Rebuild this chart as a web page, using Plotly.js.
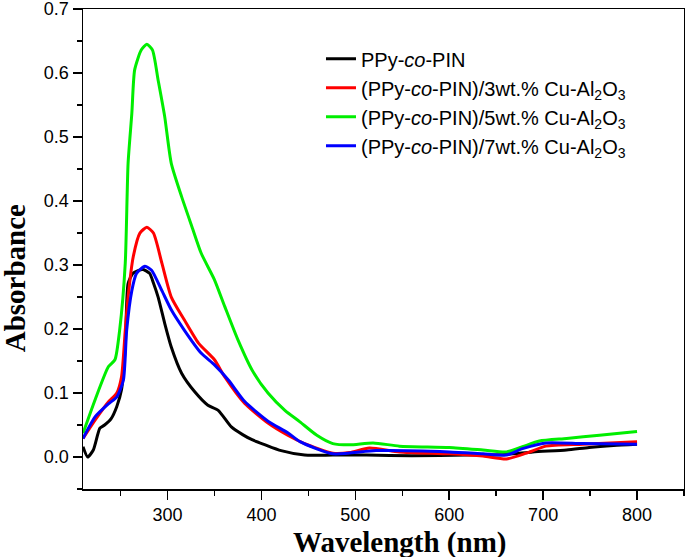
<!DOCTYPE html>
<html>
<head>
<meta charset="utf-8">
<script src="https://cdn.plot.ly/plotly-3.0.1.min.js"></script>
<style>
  html, body { margin: 0; padding: 0; background: #fff; }
  #chart { width: 685px; height: 557px; }
</style>
</head>
<body>
<div id="chart"></div>
<script>
// ---- Data ----
var seriesNames = [
  'PPy-<i>co</i>-PIN',
  '(PPy-<i>co</i>-PIN)/3wt.% Cu-Al<sub>2</sub>O<sub>3</sub>',
  '(PPy-<i>co</i>-PIN)/5wt.% Cu-Al<sub>2</sub>O<sub>3</sub>',
  '(PPy-<i>co</i>-PIN)/7wt.% Cu-Al<sub>2</sub>O<sub>3</sub>'
];
var seriesColors = ['#000000', '#ff0000', '#00ee00', '#0000ff'];

var wlBlack  = [210, 215, 221, 228, 233, 240, 246, 251, 255, 258, 263, 268, 274, 281, 285, 290, 297, 304, 315, 329, 343, 354, 368, 380, 390, 404, 421, 446, 476, 512, 560, 620, 660, 689, 725, 749, 775, 800];
var absBlack = [0.016, 0.0, 0.011, 0.045, 0.05, 0.06, 0.079, 0.105, 0.172, 0.271, 0.287, 0.291, 0.293, 0.287, 0.272, 0.25, 0.209, 0.172, 0.131, 0.102, 0.081, 0.073, 0.047, 0.035, 0.027, 0.019, 0.010, 0.003, 0.003, 0.003, 0.002, 0.003, 0.004, 0.008, 0.011, 0.015, 0.018, 0.020];

var wlRed  = [210, 223, 237, 246, 251, 255, 258, 263.5, 270.6, 278, 285, 294, 304, 318, 333, 350, 361, 382, 407, 428, 446, 476, 494, 515, 547, 600, 636, 661, 682, 703, 742, 800];
var absRed = [0.029, 0.058, 0.086, 0.10, 0.125, 0.198, 0.25, 0.313, 0.35, 0.359, 0.35, 0.303, 0.25, 0.214, 0.178, 0.152, 0.125, 0.084, 0.053, 0.034, 0.021, 0.006, 0.007, 0.014, 0.008, 0.005, 0.0015, -0.003, 0.006, 0.017, 0.02, 0.024];

var wlGreen  = [210, 223, 237, 244, 249, 255, 258, 262, 265, 272, 278, 284, 290, 297, 304, 315, 326, 336, 350, 361, 375, 390, 407, 425, 441, 459, 476, 494, 519, 547, 600, 636, 661, 678, 696, 725, 760, 800];
var absGreen = [0.037, 0.09, 0.141, 0.152, 0.198, 0.303, 0.459, 0.537, 0.605, 0.636, 0.645, 0.636, 0.589, 0.532, 0.459, 0.407, 0.36, 0.318, 0.277, 0.235, 0.183, 0.136, 0.10, 0.073, 0.055, 0.034, 0.021, 0.019, 0.022, 0.017, 0.015, 0.011, 0.008, 0.016, 0.025, 0.029, 0.034, 0.040];

var wlBlue  = [210, 223, 237, 246, 253, 256.5, 262, 267, 276, 283, 294, 304, 318, 336, 350, 365, 382, 407, 428, 441, 476, 522, 600, 636, 661, 678, 703, 742, 800];
var absBlue = [0.029, 0.063, 0.083, 0.094, 0.12, 0.198, 0.26, 0.287, 0.298, 0.292, 0.26, 0.23, 0.198, 0.162, 0.144, 0.12, 0.087, 0.056, 0.038, 0.024, 0.005, 0.01, 0.008, 0.005, 0.003, 0.013, 0.022, 0.021, 0.02];

var xTickVals = [300, 400, 500, 600, 700, 800];
var yTickVals = [0.0, 0.1, 0.2, 0.3, 0.4, 0.5, 0.6, 0.7];

var xs = [wlBlack, wlRed, wlGreen, wlBlue];
var ys = [absBlack, absRed, absGreen, absBlue];

var traces = xs.map(function (x, i) {
  return {
    type: 'scatter', mode: 'lines',
    x: x, y: ys[i], name: seriesNames[i],
    line: { color: seriesColors[i], width: 3, shape: 'spline', smoothing: 0.6 }
  };
});

var tickFont = { family: 'Arial, "Liberation Sans", sans-serif', size: 18, color: '#000' };
var titleFont = { family: '"Times New Roman", "Liberation Serif", serif', size: 29, color: '#000', weight: 'bold' };

var axisCommon = {
  showgrid: false, zeroline: false,
  showline: true, linecolor: '#000', linewidth: 1.5, mirror: true,
  ticks: 'outside', ticklen: 9, tickwidth: 1.5, tickcolor: '#000',
  tickfont: tickFont, ticklabeloverflow: 'allow'
};

var layout = {
  width: 685, height: 557,
  margin: { l: 83, r: 1, t: 9, b: 68 },
  paper_bgcolor: '#fff', plot_bgcolor: '#fff',
  showlegend: true,
  legend: {
    x: 0.396, y: 0.937, xanchor: 'left', yanchor: 'top',
    bgcolor: 'rgba(0,0,0,0)', borderwidth: 0,
    font: { family: 'Arial, "Liberation Sans", sans-serif', size: 20, color: '#000' },
    tracegroupgap: 0
  },
  xaxis: Object.assign({}, axisCommon, {
    range: [210, 850], tickmode: 'array', tickvals: xTickVals,
    minor: { dtick: 50, tick0: 0, ticks: 'outside', ticklen: 5, tickwidth: 1.5, tickcolor: '#000' }
  }),
  yaxis: Object.assign({}, axisCommon, {
    range: [-0.05, 0.7002], tickmode: 'array', tickvals: yTickVals, tickformat: '.1f',
    minor: { dtick: 0.05, tick0: 0, ticks: 'outside', ticklen: 5, tickwidth: 1.5, tickcolor: '#000' }
  }),
  annotations: [
    { text: 'Wavelength (nm)', xref: 'paper', yref: 'paper', x: 0.526, y: -0.112,
      xanchor: 'center', yanchor: 'middle', showarrow: false, font: titleFont },
    { text: 'Absorbance', xref: 'paper', yref: 'paper', x: -0.114, y: 0.44,
      xanchor: 'center', yanchor: 'middle', textangle: -90, showarrow: false, font: titleFont }
  ]
};

Plotly.newPlot('chart', traces, layout, { staticPlot: true, displayModeBar: false });
</script>
</body>
</html>
